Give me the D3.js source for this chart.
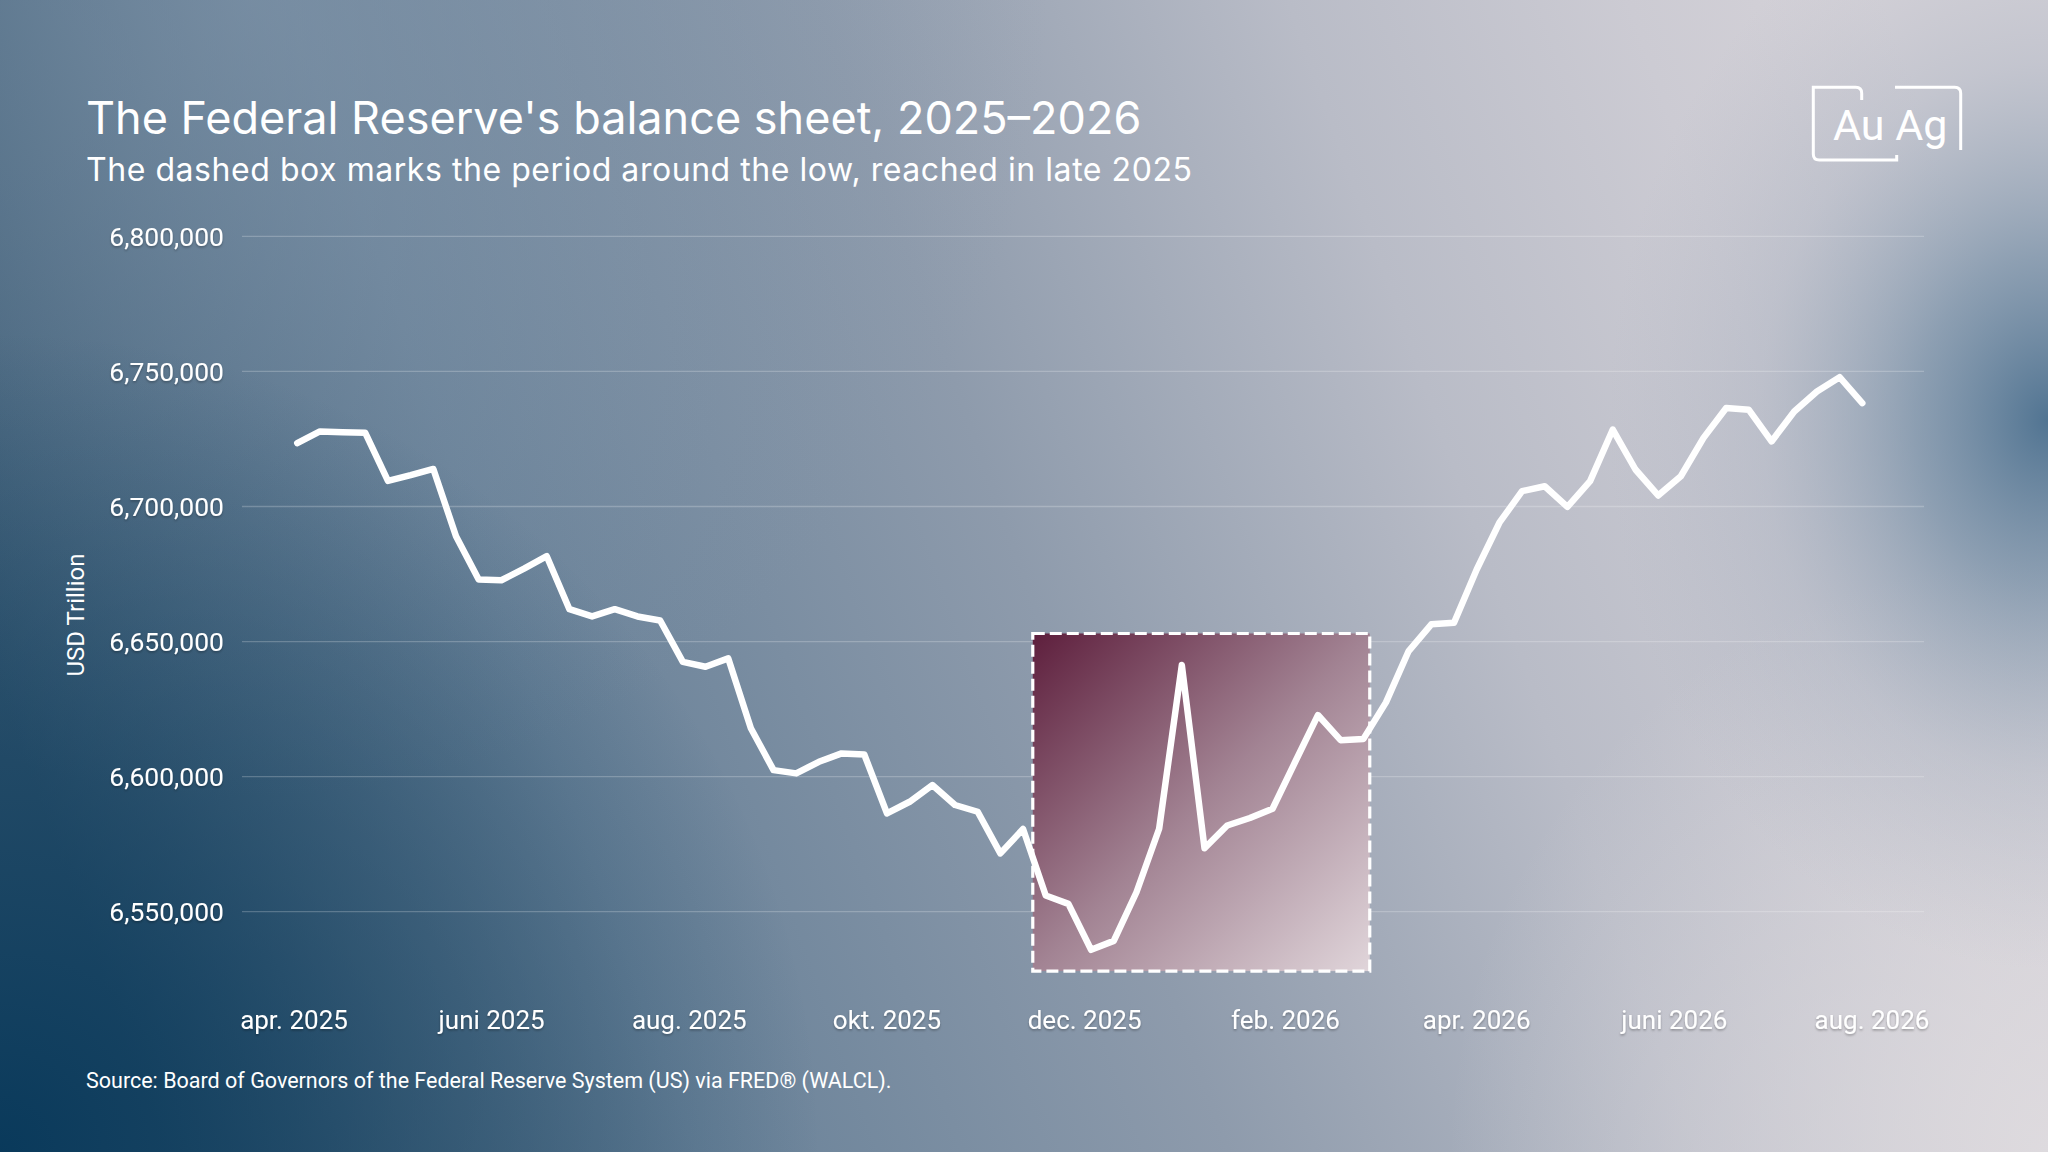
<!DOCTYPE html>
<html>
<meta charset="utf-8">
<head>
  <title>Federal Reserve balance sheet 2025-2026</title>
</head>

<style>
html, body {
  margin: 0;
  padding: 0;
  overflow: hidden;
}
text {
  fill: #fff;
}
</style>

<body>
  <svg id="chart" width="2048" height="1152"></svg>

<script src="https://d3js.org/d3.v7.min.js"></script>
<script>
var width = 2048, height = 1152

// weekly values (Wednesdays), Apr 2 2025 .. Jul 29 2026
var startDate = new Date(2025, 3, 2)
var values = [
  6723500, 6727800, 6727500, 6727300, 6709500, 6711600, 6713900, 6689000,
  6673000, 6672700, 6677000, 6681600, 6662000, 6659300, 6662000, 6659300,
  6657800, 6642500, 6640700, 6643800, 6617900, 6602400, 6601200, 6605500,
  6608600, 6608200, 6586400, 6590700, 6596900, 6589500, 6587000, 6571600,
  6580600, 6556000, 6552900, 6535900, 6539200, 6557200, 6580700, 6641300,
  6573500, 6581900, 6584700, 6588100, 6605500, 6622800, 6613500, 6613900,
  6627500, 6646500, 6656400, 6657000, 6676700, 6694000, 6705700, 6707500,
  6699900, 6709400, 6728500, 6713700, 6704100, 6711200, 6725400, 6736500,
  6735800, 6724100, 6735200, 6742600, 6747900, 6738300
]

var yTicks = [6550000, 6600000, 6650000, 6700000, 6750000, 6800000]
var xTickDates = [
  new Date(2025, 3, 1), new Date(2025, 5, 1), new Date(2025, 7, 1),
  new Date(2025, 9, 1), new Date(2025, 11, 1), new Date(2026, 1, 1),
  new Date(2026, 3, 1), new Date(2026, 5, 1), new Date(2026, 7, 1)
]
var xTickLabels = ['apr. 2025', 'juni 2025', 'aug. 2025', 'okt. 2025', 'dec. 2025',
                   'feb. 2026', 'apr. 2026', 'juni 2026', 'aug. 2026']

// highlighted period around the low
var boxDates = [new Date(2025, 10, 15), new Date(2026, 1, 27)]
var boxValues = [6528000, 6653000]

var data = values.map(function(v, i) {
  return {date: d3.timeDay.offset(startDate, i * 7), value: v}
})

var svg = d3.select('#chart')
var defs = svg.append('defs')

function addStops(grad, stops) {
  grad.selectAll('stop').data(stops).enter().append('stop')
    .attr('offset', function(d) { return d[0] })
    .attr('stop-color', function(d) { return d[1] })
    .attr('stop-opacity', function(d) { return d[2] == null ? 1 : d[2] })
}

// ---- background ----
var bg = defs.append('linearGradient').attr('id', 'bgLin')
  .attr('x1', '0').attr('y1', '0.6').attr('x2', '1').attr('y2', '0.4')
addStops(bg, [
  ['0', '#33556f'], ['0.25', '#688198'], ['0.5', '#8e9bac'],
  ['0.72', '#b9bcc7'], ['0.88', '#cccbd3'], ['1', '#d6d3d9']
])

var rDark = defs.append('radialGradient').attr('id', 'bgDark')
  .attr('gradientUnits', 'userSpaceOnUse')
  .attr('cx', 0).attr('cy', 1152).attr('r', 820)
addStops(rDark, [['0', '#07385a', 0.95], ['0.5', '#0d3c5c', 0.45], ['1', '#0d3c5c', 0]])

var rTop = defs.append('radialGradient').attr('id', 'bgTop')
  .attr('gradientUnits', 'userSpaceOnUse')
  .attr('cx', 250).attr('cy', 0).attr('r', 800)
addStops(rTop, [['0', '#8598ac', 0.55], ['1', '#8598ac', 0]])

var rBR = defs.append('radialGradient').attr('id', 'bgBR')
  .attr('gradientUnits', 'userSpaceOnUse')
  .attr('cx', 2048).attr('cy', 1152).attr('r', 600)
addStops(rBR, [['0', '#e2dee1', 0.8], ['1', '#e2dee1', 0]])

var rRight = defs.append('radialGradient').attr('id', 'bgRight')
  .attr('gradientUnits', 'userSpaceOnUse')
  .attr('cx', 2048).attr('cy', 420).attr('r', 440)
  .attr('gradientTransform', 'translate(2048,420) scale(1,1.25) translate(-2048,-420)')
addStops(rRight, [
  ['0', '#4a6f8e', 0.95], ['0.3', '#67849e', 0.65],
  ['0.65', '#98a5b7', 0.3], ['1', '#a8b0bf', 0]
])

;['bgLin', 'bgTop', 'bgDark', 'bgBR', 'bgRight'].forEach(function(id) {
  svg.append('rect').attr('width', width).attr('height', height).attr('fill', 'url(#' + id + ')')
})

// box gradient
var boxGrad = defs.append('linearGradient').attr('id', 'boxGrad')
  .attr('x1', '0').attr('y1', '0').attr('x2', '1').attr('y2', '1')
addStops(boxGrad, [['0', '#5e1f3d'], ['0.5', '#a28393'], ['1', '#e0d5da']])

var shadow = defs.append('filter').attr('id', 'shadow')
  .attr('x', '-10%').attr('y', '-30%').attr('width', '120%').attr('height', '160%')
shadow.append('feDropShadow').attr('dx', 0).attr('dy', 1.5).attr('stdDeviation', 1)
  .attr('flood-color', '#000').attr('flood-opacity', 0.3)

// ---- scales ----
var x = d3.scaleTime()
  .domain([new Date(2025, 3, 1), new Date(2026, 7, 1)])
  .range([294, 1872])

var y = d3.scaleLinear()
  .domain([6550000, 6800000])
  .range([911.7, 236.4])

var gridLeft = 242, gridRight = 1924

// grid
svg.append('g').selectAll('line').data(yTicks).enter().append('line')
  .attr('x1', gridLeft).attr('x2', gridRight)
  .attr('y1', function(d) { return y(d) })
  .attr('y2', function(d) { return y(d) })
  .attr('stroke', '#ffffff').attr('stroke-opacity', 0.22).attr('stroke-width', 1.3)

// y labels
svg.append('g').selectAll('text').data(yTicks).enter().append('text')
  .attr('x', 224)
  .attr('y', function(d) { return y(d) })
  .attr('dy', '0.35em')
  .attr('text-anchor', 'end')
  .attr('font-family', 'Roboto')
  .attr('font-size', 26.5)
  .attr('filter', 'url(#shadow)')
  .text(d3.format(','))

// x labels
svg.append('g').selectAll('text').data(xTickDates).enter().append('text')
  .attr('x', function(d) { return x(d) })
  .attr('y', 1020)
  .attr('dy', '0.35em')
  .attr('text-anchor', 'middle')
  .attr('font-family', 'Roboto')
  .attr('font-size', 26)
  .attr('filter', 'url(#shadow)')
  .text(function(d, i) { return xTickLabels[i] })

// axis title
svg.append('text')
  .attr('transform', 'translate(84,615) rotate(-90)')
  .attr('text-anchor', 'middle')
  .attr('font-family', 'Roboto')
  .attr('font-size', 24)
  .text('USD Trillion')

// highlight box
svg.append('rect')
  .attr('x', x(boxDates[0]))
  .attr('y', y(boxValues[1]))
  .attr('width', x(boxDates[1]) - x(boxDates[0]))
  .attr('height', y(boxValues[0]) - y(boxValues[1]))
  .attr('fill', 'url(#boxGrad)')
  .attr('stroke', '#fff')
  .attr('stroke-width', 3.2)
  .attr('stroke-dasharray', '12,5')

// line
var line = d3.line()
  .x(function(d) { return x(d.date) })
  .y(function(d) { return y(d.value) })

svg.append('path')
  .datum(data)
  .attr('d', line)
  .attr('fill', 'none')
  .attr('stroke', '#fff')
  .attr('stroke-width', 6.5)
  .attr('stroke-linejoin', 'round')
  .attr('stroke-linecap', 'round')

// titles
svg.append('text')
  .attr('x', 86).attr('y', 134)
  .attr('font-family', 'Inter')
  .attr('font-size', 45)
  .text("The Federal Reserve's balance sheet, 2025\u20132026")

svg.append('text')
  .attr('x', 86).attr('y', 181)
  .attr('font-family', 'Inter')
  .attr('font-size', 32)
  .attr('letter-spacing', 0.55)
  .text('The dashed box marks the period around the low, reached in late 2025')

svg.append('text')
  .attr('x', 86).attr('y', 1088)
  .attr('font-family', 'Roboto')
  .attr('font-size', 21.5)
  .text('Source: Board of Governors of the Federal Reserve System (US) via FRED\u00ae (WALCL).')

// logo
var logo = svg.append('g')
logo.append('path')
  .attr('d', 'M1861.7,100 V93.3 Q1861.7,87.3 1855.7,87.3 H1813.3 V154 Q1813.3,160 1819.3,160 H1896.7 V155')
  .attr('fill', 'none').attr('stroke', '#fff').attr('stroke-width', 3)
logo.append('path')
  .attr('d', 'M1895,87.3 H1954.7 Q1960.7,87.3 1960.7,93.3 V150')
  .attr('fill', 'none').attr('stroke', '#fff').attr('stroke-width', 3)
logo.append('text')
  .attr('x', 1833).attr('y', 140)
  .attr('font-family', 'Roboto')
  .attr('font-size', 43)
  .text('Au Ag')
</script>
</body>
</html>
